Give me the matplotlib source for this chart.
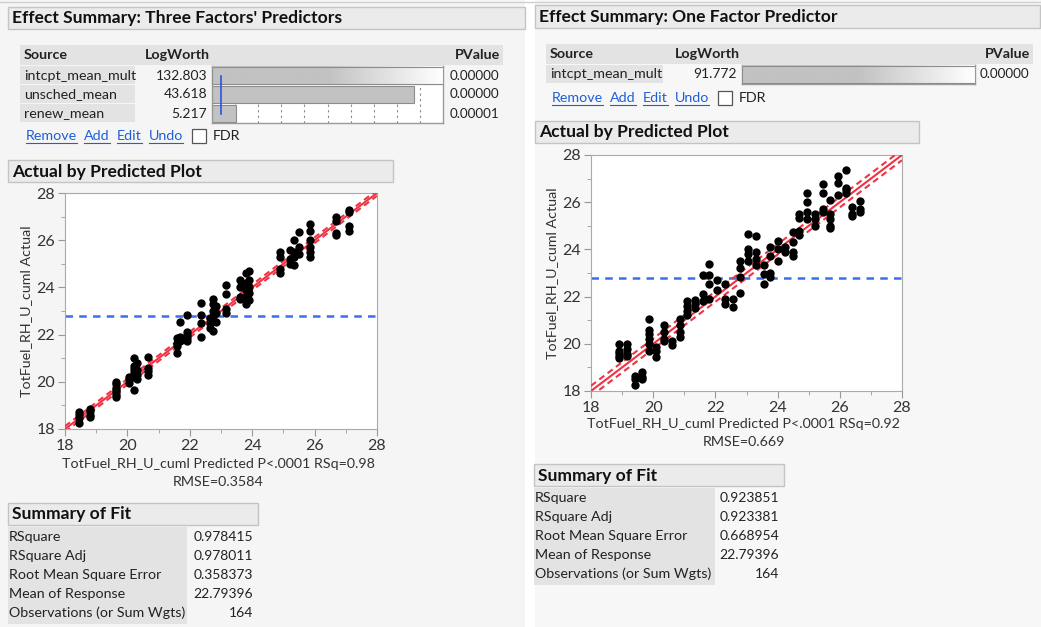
import matplotlib
matplotlib.use("Agg")
import matplotlib.pyplot as plt
import numpy as np
from matplotlib.patches import Rectangle
from matplotlib.colors import LinearSegmentedColormap

# ---------------- data ----------------
effects_three = ["intcpt_mean_mult", "unsched_mean", "renew_mean"]
logworth_three = [132.803, 43.618, 5.217]
pvalue_three = ["0.00000", "0.00000", "0.00001"]

effects_one = ["intcpt_mean_mult"]
logworth_one = [91.772]
pvalue_one = ["0.00000"]

# Actual by predicted (three-factor model): predicted value of each column, actual values in it
pred_three_cols = [18.45, 18.8, 19.65, 20.05, 20.2, 20.3, 20.65, 21.6, 21.7, 21.9, 22.35, 22.65,
                   22.75, 22.85, 23.15, 23.6, 23.8, 23.9, 24.9, 25.2, 25.35, 25.5, 25.85, 26.7, 27.1]
actual_three_cols = [
    [18.25, 18.45, 18.6, 18.7], [18.5, 18.6, 18.75, 18.85],
    [19.35, 19.45, 19.55, 19.65, 19.75, 19.9, 20.0], [19.95, 20.1, 20.2],
    [19.65, 20.2, 20.4, 20.55, 20.65, 21.0], [20.1, 20.3, 20.5, 20.8],
    [20.3, 20.45, 20.6, 21.05], [21.2, 21.5, 21.65, 21.85], [21.75, 21.9, 22.55],
    [21.75, 21.85, 22.0, 22.1, 22.85], [21.9, 22.5, 22.85, 23.35], [22.3, 22.5, 22.7],
    [22.15, 22.8, 23.0, 23.3, 23.5], [22.55, 22.9, 23.2], [22.9, 23.1, 23.7, 24.1],
    [23.5, 23.6, 24.0, 24.3], [23.3, 23.6, 23.9, 24.2, 24.6], [23.45, 23.75, 24.0, 24.3, 24.7],
    [24.6, 24.8, 25.3, 25.5], [25.0, 25.2, 25.6], [24.95, 25.3, 25.5, 26.0],
    [25.4, 25.7, 26.35], [25.3, 25.5, 25.7, 26.0, 26.4, 26.7], [26.2, 26.3, 26.8, 27.0],
    [26.4, 26.6, 27.2, 27.3]]

# Actual by predicted (one-factor model)
pred_one_cols = [18.9, 19.15, 19.4, 19.65, 19.85, 20.1, 20.35, 20.6, 20.85, 21.1, 21.35, 21.6,
                 21.8, 22.05, 22.3, 22.55, 22.8, 23.05, 23.3, 23.55, 23.75, 24.0, 24.25, 24.5,
                 24.7, 24.95, 25.2, 25.45, 25.7, 25.95, 26.2, 26.4, 26.65]
actual_one_cols = [
    [19.4, 19.5, 19.6, 19.7, 20.0], [19.5, 19.55, 19.8, 20.0], [18.25, 18.5, 18.65],
    [18.5, 18.6, 18.8], [19.7, 20.0, 20.2, 20.4, 20.6, 21.05], [19.45, 19.7, 19.85],
    [20.1, 20.2, 20.5, 20.8], [19.95, 20.1], [20.3, 20.5, 20.8, 21.05],
    [21.2, 21.4, 21.6, 21.8], [21.5, 21.7, 21.85], [21.8, 22.1, 22.9],
    [21.9, 22.55, 22.9, 23.4], [22.3, 22.7], [21.7, 21.9, 22.55], [21.55, 21.9],
    [22.15, 22.85, 23.2, 23.5], [23.5, 23.8, 24.0, 24.65], [23.35, 23.6, 23.9, 24.55],
    [22.55, 22.95, 23.35], [22.85, 23.0, 23.7, 24.1], [23.5, 24.0, 24.35], [23.9, 24.1],
    [23.7, 23.9, 24.3, 24.75], [24.6, 24.8, 25.35, 25.5], [25.3, 25.6, 26.0, 26.4],
    [25.0, 25.3, 25.5], [25.6, 25.7, 26.4, 26.75], [24.9, 25.0, 25.3, 25.5, 26.1],
    [26.3, 26.8, 27.1], [26.4, 26.5, 26.6, 27.35], [25.4, 25.5, 25.8], [25.6, 25.7, 26.05]]

mean_response = 22.79396
ci_half_three = 0.12
ci_half_one = 0.22
axis_ticks = [18, 20, 22, 24, 26, 28]

fit_labels = ["RSquare", "RSquare Adj", "Root Mean Square Error", "Mean of Response",
              "Observations (or Sum Wgts)"]
fit_three = ["0.978415", "0.978011", "0.358373", "22.79396", "164"]
fit_one = ["0.923851", "0.923381", "0.668954", "22.79396", "164"]

# ---------------- figure ----------------
W, H = 1041, 627
FONT = "Lato"
fig = plt.figure(figsize=(W / 100, H / 100), dpi=100)
fig.patch.set_facecolor("white")
bg = fig.add_axes([0, 0, 1, 1])
bg.set_xlim(0, W)
bg.set_ylim(H, 0)
bg.axis("off")

TXT = "#222222"
LINK = "#1f5fd6"
TS = 10.3  # table text size
NS = 9.7   # numeric text size


def rect(x0, y0, x1, y1, fc, ec="none", lw=1.0, z=1):
    bg.add_patch(Rectangle((x0, y0), x1 - x0, y1 - y0, facecolor=fc, edgecolor=ec, lw=lw, zorder=z))


def txt(x, y, s, size=TS, weight="normal", ha="left", color=TXT, **kw):
    return bg.text(x, y, s, fontsize=size, fontweight=weight, ha=ha, va="center",
                   color=color, family=FONT, zorder=5, **kw)


def axes_px(x0, y0, x1, y1):
    return fig.add_axes([x0 / W, 1 - y1 / H, (x1 - x0) / W, (y1 - y0) / H])


# panel backgrounds
rect(0, 0, 525, H, "#f5f5f5")
rect(535, 0, W, H, "#f7f7f7")
bg.plot([0, W], [2, 2], color="#d0d0d0", lw=1, zorder=2)

links = []


def header(x0, y0, x1, y1, title):
    rect(x0, y0, x1, y1, "#ebebeb", "#c4c4c4", 1.0, z=2)
    txt(x0 + 4, (y0 + y1) / 2 + 0.5, title, size=12.6, weight="bold", color="#111111")


def effect_table(x0, x1, y_head, src_w, lw_right, bar_x0, bar_x1, names, lws, pvals, links_y):
    row_h = 19
    rect(x0, y_head, x1, y_head + 20, "#e3e3e3", z=2)
    txt(x0 + 4, y_head + 10, "Source", weight="bold")
    txt(lw_right - 62, y_head + 10, "LogWorth", weight="bold")
    txt(x1 - 3, y_head + 10, "PValue", weight="bold", ha="right")
    top = y_head + 21
    n = len(names)
    for i, (nm, v, p) in enumerate(zip(names, lws, pvals)):
        cy = top + row_h * i + row_h / 2
        rect(x0, top + row_h * i, x0 + src_w, top + row_h * (i + 1) - 1, "#e3e3e3", z=2)
        txt(x0 + 4, cy, nm)
        txt(lw_right, cy, f"{v:.3f}", size=NS + 0.3, ha="right")
        txt(x1 - 4, cy, p, size=NS, ha="right")
    # bar chart axes
    ax = axes_px(bar_x0, top, bar_x1, top + row_h * n)
    scale_max = 50.0
    ax.set_facecolor("white")
    for s in ax.spines.values():
        s.set_color("#9a9a9a")
        s.set_linewidth(1.0)
    ax.set_yticks([])
    ax.set_xticks(np.arange(5, scale_max, 5))
    ax.tick_params(axis="x", direction="in", length=3, color="#9a9a9a", top=True, bottom=False,
                   labelbottom=False)
    if n > 1:
        for xv in np.arange(5, scale_max, 5):
            ax.axvline(xv, color="#888888", lw=0.8, ls=(0, (2, 3)), zorder=0)
    ypos = np.arange(n)
    shown = np.minimum(lws, scale_max)
    ax.barh(ypos, shown, height=0.92, color="#c2c2c2", edgecolor="#8c8c8c", lw=0.8, zorder=2)
    grad = np.linspace(0, 1, 256)[None, :]
    cmap = LinearSegmentedColormap.from_list("g", ["#c2c2c2", "#c2c2c2", "#ffffff"])
    for yi, v in zip(ypos, lws):
        if v > scale_max:
            ax.imshow(grad, extent=(0, scale_max, yi + 0.46, yi - 0.46), aspect="auto",
                      cmap=cmap, zorder=3)
            ax.add_patch(Rectangle((0, yi - 0.46), scale_max, 0.92, fill=False,
                                   ec="#8c8c8c", lw=0.8, zorder=4))
    ax.set_xlim(0, scale_max)
    ax.set_ylim(n - 0.5, -0.5)
    if n > 1:
        ax.plot([2, 2], [0, n - 1], color="#2a55e0", lw=1.2, zorder=5)
    # links
    lx = x0 + 6
    for word in ["Remove", "Add", "Edit", "Undo"]:
        t = txt(lx, links_y, word, color=LINK)
        links.append(t)
        lx += {"Remove": 58, "Add": 33, "Edit": 32, "Undo": 43}[word]
    rect(lx, links_y - 7, lx + 14, links_y + 7, "white", "#555555", 0.9, z=3)
    txt(lx + 21, links_y, "FDR")


def fit_plot(x0, y0, x1, y1, preds, actuals, ci, rsq, rmse, label_y):
    ax = axes_px(x0, y0, x1, y1)
    px = [p for p, col in zip(preds, actuals) for _ in col]
    ay = [a for col in actuals for a in col]
    lo, hi = axis_ticks[0], axis_ticks[-1]
    red = "#ee3344"
    line = np.array([lo, hi])
    ax.plot(line, line, color=red, lw=1.5, zorder=3)
    ax.plot(line, line + ci, color=red, lw=1.5, ls=(0, (3, 2)), zorder=3)
    ax.plot(line, line - ci, color=red, lw=1.5, ls=(0, (3, 2)), zorder=3)
    ax.axhline(mean_response, color="#3a6ff0", lw=1.8, ls=(0, (3, 2.5)), zorder=2)
    ax.scatter(px, ay, s=36, color="black", zorder=4, linewidths=0)
    ax.set_xlim(lo, hi)
    ax.set_ylim(lo, hi)
    ax.set_xticks(axis_ticks)
    ax.set_yticks(axis_ticks)
    ax.set_xticks(np.arange(19, 28, 2), minor=True)
    ax.set_yticks(np.arange(19, 28, 2), minor=True)
    ax.tick_params(which="major", length=5, color="#999999", labelsize=11.5, labelcolor="#333333",
                   pad=2)
    ax.tick_params(which="minor", length=3, color="#999999")
    for lab in ax.get_xticklabels() + ax.get_yticklabels():
        lab.set_family(FONT)
    for s in ax.spines.values():
        s.set_color("#aaaaaa")
    ax.set_ylabel("TotFuel_RH_U_cuml Actual", fontsize=10.3, family=FONT, color="#333333",
                  labelpad=3)
    cx = (x0 + x1) / 2 - 3
    txt(cx, label_y, f"TotFuel_RH_U_cuml Predicted P<.0001 RSq={rsq}", size=10.3, ha="center",
        color="#333333")
    txt(cx, label_y + 18, f"RMSE={rmse}", size=10.3, ha="center", color="#333333")


def fit_table(x0, y_head, label_w, val_right, values):
    header(x0, y_head, x0 + 250, y_head + 22, "Summary of Fit")
    top = y_head + 24
    rect(x0, top, x0 + label_w, top + 5 * 19 + 2, "#e3e3e3", z=2)
    for i, (lab, v) in enumerate(zip(fit_labels, values)):
        cy = top + 10 + 19 * i
        txt(x0 + 1, cy, lab)
        txt(val_right, cy, v, size=NS + 0.3, ha="right")


# ---- left panel ----
header(8, 7, 525, 29, "Effect Summary: Three Factors' Predictors")
effect_table(20, 503, 45, 115, 207, 212, 443, effects_three, logworth_three, pvalue_three, 136)
header(8, 160, 393, 182, "Actual by Predicted Plot")
fit_plot(65, 193, 377, 429, pred_three_cols, actual_three_cols, ci_half_three, "0.98", "0.3584",
         464)
fit_table(8, 503, 179, 253, fit_three)

# ---- right panel ----
header(535, 5, 1040, 28, "Effect Summary: One Factor Predictor")
effect_table(546, 1033, 44, 117, 737, 742, 975, effects_one, logworth_one, pvalue_one, 98)
header(535, 121, 919, 143, "Actual by Predicted Plot")
fit_plot(591, 155, 902, 391, pred_one_cols, actual_one_cols, ci_half_one, "0.92", "0.669", 424)
fit_table(534, 464, 181, 779, fit_one)

# underline links
fig.canvas.draw()
r = fig.canvas.get_renderer()
inv = bg.transData.inverted()
for t in links:
    bb = t.get_window_extent(r)
    (xa, ya), (xb, yb) = inv.transform([[bb.x0, bb.y0], [bb.x1, bb.y1]])
    bg.plot([xa, xb], [ya + 1, ya + 1], color=LINK, lw=0.8, zorder=5)

fig.savefig("out.png", dpi=100)
